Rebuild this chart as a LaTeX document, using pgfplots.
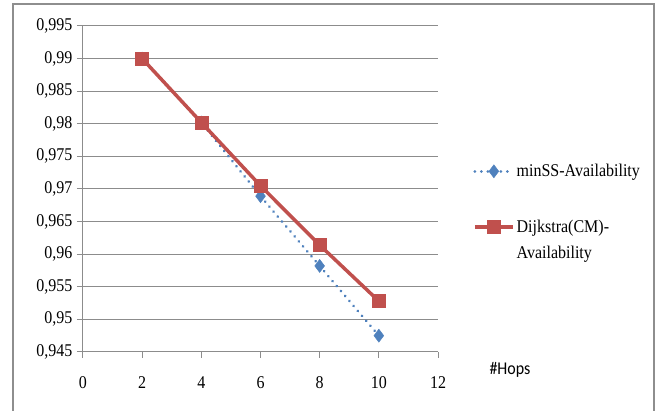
\documentclass[border=0pt]{standalone}
\usepackage{pgfplots}
\pgfplotsset{compat=1.18}
\usepackage{fontspec}
\setmainfont{Liberation Serif}
\newfontfamily\carlito{Carlito}
\definecolor{exred}{HTML}{C0504D}
\definecolor{exblue}{HTML}{4F81BD}
\definecolor{gridgray}{HTML}{8C8C8C}
\definecolor{bordergray}{HTML}{8E8E8E}
\newcommand{\tall}[1]{\scalebox{1}[1.12]{#1}}
\begin{document}
\begin{tikzpicture}[x=1pt,y=1pt]
\useasboundingbox (-83,-59) rectangle (575,352);
\draw[bordergray, line width=1.3pt] (-70,348) rectangle (571,-80);
\begin{axis}[
  at={(0,0)}, anchor=south west,
  scale only axis, width=355pt, height=326pt,
  xmin=0, xmax=12, ymin=0.945, ymax=0.995,
  xtick={0,2,4,6,8,10,12},
  ytick={0.945,0.95,0.955,0.96,0.965,0.97,0.975,0.98,0.985,0.99,0.995},
  axis x line*=bottom, axis y line*=left,
  axis line style={gridgray, line width=1pt},
  tick style={gridgray, line width=1pt},
  tick align=outside,
  major tick length=6pt,
  ymajorgrids, grid style={gridgray, line width=1pt},
  ticklabel style={font=\fontsize{16}{18}\selectfont},
  /pgf/number format/.cd, fixed, precision=3, use comma, assume math mode=true,
  /pgfplots/.cd,
  yticklabel={\tall{\pgfmathprintnumber{\tick}}},
  xticklabel={\tall{\pgfmathprintnumber{\tick}}},
  yticklabel style={xshift=-1pt},
  xticklabel style={yshift=-15pt},
  legend style={draw=none, fill=none, at={(1.09,0.59)}, anchor=north west,
    font=\fontsize{16}{19}\selectfont, row sep=37pt,
    cells={anchor=base west}},
  legend image code/.code={
    \draw[mark repeat=2,mark phase=2,#1] plot coordinates {(0pt,5pt) (19pt,5pt) (38pt,5pt)};
  },
]
\addplot[exblue, line width=3pt, line cap=round, dash pattern=on 0.01pt off 6.5pt,
  mark=diamond*, mark size=6.5pt, mark options={solid, fill=exblue, draw=exblue, line width=0.5pt}]
  coordinates {(2,0.99) (4,0.9802) (6,0.9689) (8,0.9582) (10,0.9475)};
\addlegendentry{\tall{minSS-Availability}}
\addplot[exred, line width=3.5pt,
  mark=square*, mark size=6.5pt, mark options={solid, fill=exred, draw=exred, line width=0.5pt}]
  coordinates {(2,0.99) (4,0.9802) (6,0.9705) (8,0.9614) (10,0.9528)};
\addlegendentry{\begin{tabular}[t]{@{}l@{}}\tall{Dijkstra(CM)-}\\[7pt]\tall{Availability}\end{tabular}}
\end{axis}
\node[font=\carlito\fontsize{16}{18}\selectfont] at (427,-18) {\tall{\#Hops}};
\end{tikzpicture}
\end{document}
